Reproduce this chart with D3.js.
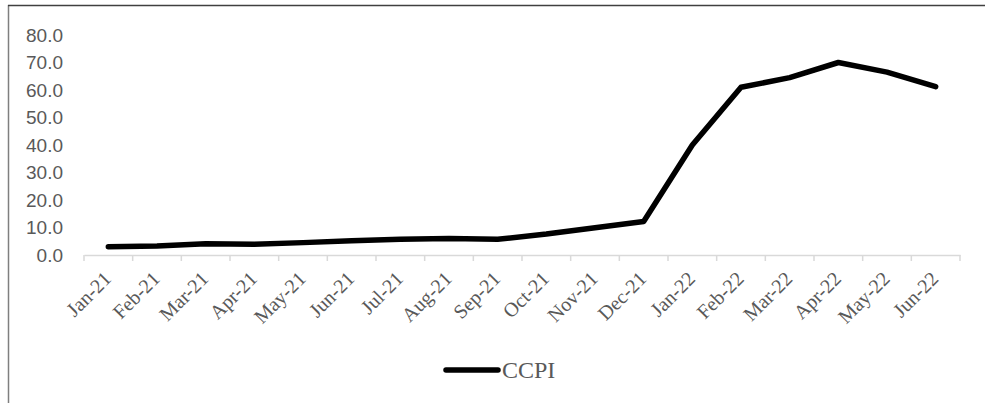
<!DOCTYPE html>
<html>
<head>
<meta charset="utf-8">
<script src="https://cdn.jsdelivr.net/npm/d3@7"></script>
<style>
  html, body { margin: 0; padding: 0; background: #fff; }
  svg { display: block; }
</style>
</head>
<body>
<svg id="chart" width="985" height="403"></svg>
<script>
const categories = ["Jan-21","Feb-21","Mar-21","Apr-21","May-21","Jun-21","Jul-21","Aug-21","Sep-21","Oct-21","Nov-21","Dec-21","Jan-22","Feb-22","Mar-22","Apr-22","May-22","Jun-22"];
const ccpi = [3.0, 3.3, 4.1, 3.9, 4.5, 5.2, 5.7, 6.0, 5.7, 7.6, 9.9, 12.2, 40.0, 61.0, 64.5, 70.0, 66.5, 61.2];
const yTicks = [0, 10, 20, 30, 40, 50, 60, 70, 80];
const seriesName = "CCPI";

const svg = d3.select("#chart");
const W = 985, H = 403;

// chart border (left & top visible)
svg.append("line").attr("x1", 8.5).attr("x2", 8.5).attr("y1", 5).attr("y2", H)
  .attr("stroke", "#7f7f7f").attr("stroke-width", 1.5);
svg.append("line").attr("x1", 8).attr("x2", W).attr("y1", 5.5).attr("y2", 5.5)
  .attr("stroke", "#404040").attr("stroke-width", 1.5);

const x = d3.scaleBand().domain(categories).range([84, 960]);
const y = d3.scaleLinear().domain([0, 80]).range([255, 35]);

// y labels
svg.append("g").selectAll("text").data(yTicks).join("text")
  .attr("x", 63).attr("y", d => y(d)).attr("dy", "0.35em")
  .attr("text-anchor", "end")
  .attr("font-family", "'Liberation Sans', Arial, sans-serif")
  .attr("font-size", 19).attr("fill", "#595959")
  .text(d => d.toFixed(1));

// x axis
const xAxis = svg.append("g").attr("transform", "translate(0,255)")
  .call(d3.axisBottom(x).tickSize(0).tickFormat(""));
xAxis.select(".domain").attr("stroke", "#d9d9d9").attr("stroke-width", 1.5);
const bounds = categories.map(c => x(c)).concat([x.range()[1]]);
svg.append("g").selectAll("line").data(bounds).join("line")
  .attr("x1", d => d).attr("x2", d => d).attr("y1", 255).attr("y2", 261)
  .attr("stroke", "#d9d9d9").attr("stroke-width", 1.5);

// x labels
svg.append("g").selectAll("text").data(categories).join("text")
  .attr("transform", d => `translate(${x(d) + x.bandwidth() / 2 + 4},280) rotate(-45)`)
  .attr("text-anchor", "end")
  .attr("font-family", "'Liberation Serif', 'Times New Roman', serif")
  .attr("font-size", 20).attr("fill", "#595959")
  .text(d => d);

// line
const line = d3.line()
  .x((d, i) => x(categories[i]) + x.bandwidth() / 2)
  .y(d => y(d));
svg.append("path").datum(ccpi)
  .attr("d", line).attr("fill", "none").attr("stroke", "#000")
  .attr("stroke-width", 5.5).attr("stroke-linejoin", "round").attr("stroke-linecap", "round");

// legend
svg.append("line").attr("x1", 446).attr("x2", 498).attr("y1", 370).attr("y2", 370)
  .attr("stroke", "#000").attr("stroke-width", 5.5).attr("stroke-linecap", "round");
svg.append("text").attr("x", 502).attr("y", 378)
  .attr("font-family", "'Liberation Serif', 'Times New Roman', serif")
  .attr("font-size", 24).attr("fill", "#595959")
  .text(seriesName);
</script>
</body>
</html>
